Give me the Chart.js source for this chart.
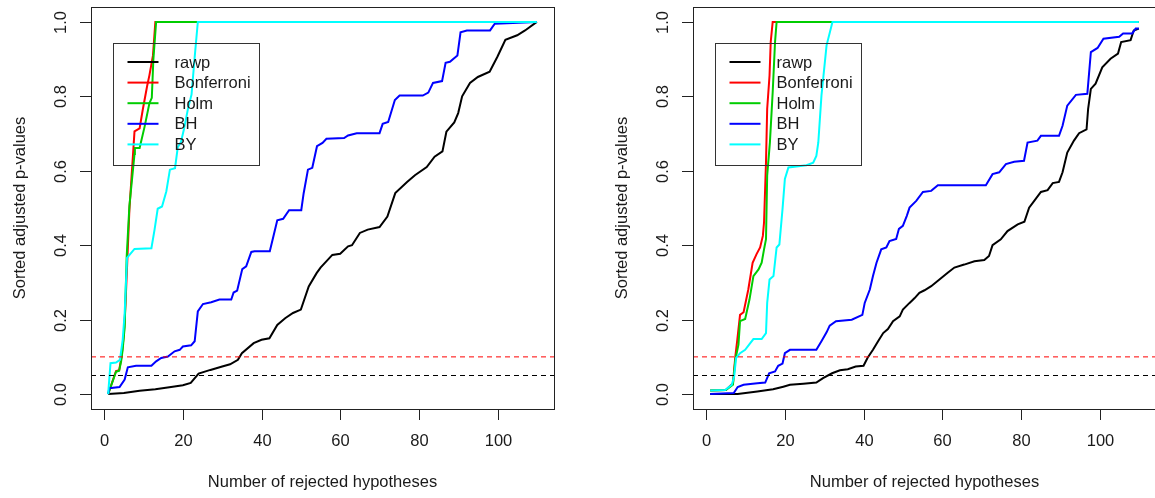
<!DOCTYPE html>
<html>
<head>
<meta charset="utf-8">
<script src="https://cdn.jsdelivr.net/npm/chart.js@4.4.1/dist/chart.umd.min.js"></script>
<style>
  html, body { margin: 0; padding: 0; background: #fff; overflow: hidden; }
  body { width: 1155px; height: 498px; position: relative; }
  .panel { position: absolute; top: 0; width: 602px; height: 498px; }
</style>
</head>
<body>
<div class="panel" style="left:0"><canvas id="leftChart" width="602" height="498"></canvas></div>
<div class="panel" style="left:602px"><canvas id="rightChart" width="602" height="498"></canvas></div>
<script>
// series names and colours (R palette 1:5)
const seriesNames = ["rawp", "Bonferroni", "Holm", "BH", "BY"];
const seriesColors = ["#000000", "#ff0000", "#00cd00", "#0000ff", "#00ffff"];

// tick labels
const xTicks = [0, 20, 40, 60, 80, 100];
const yTicks = [0, 0.2, 0.4, 0.6, 0.8, 1.0];

// horizontal reference levels
const refLevels = [0.05, 0.1];
const refColors = ["#000000", "#ff0000"];

// left panel: [number of rejected hypotheses, sorted adjusted p-value]
const leftRawp = [[1,0],[5,0.003],[9,0.009],[13,0.013],[17,0.019],[20,0.024],[22,0.03],[24,0.055],[27,0.065],[30,0.074],[32,0.08],[34,0.092],[35,0.11],[38,0.137],[40,0.146],[42,0.15],[44,0.186],[46,0.204],[48,0.218],[50,0.227],[52,0.289],[54,0.325],[55,0.34],[58,0.374],[60,0.377],[62,0.397],[63,0.4],[65,0.433],[67,0.442],[70,0.449],[72,0.477],[74,0.54],[77,0.57],[79,0.588],[82,0.61],[84,0.638],[86,0.652],[87,0.705],[89,0.73],[90,0.755],[91,0.8],[93,0.836],[95,0.852],[98,0.866],[100,0.907],[102,0.952],[105,0.964],[107,0.977],[110,1.0]];
const leftBonferroni = [[1,0],[3,0.062],[3.8,0.064],[4.4,0.1],[5,0.16],[5.4,0.24],[5.8,0.34],[6.4,0.495],[7.3,0.64],[7.7,0.706],[9,0.714],[9.8,0.764],[10.9,0.827],[11.5,0.857],[12.4,0.91],[13,1],[110,1]];
const leftHolm = [[1,0],[3,0.06],[3.8,0.063],[4.3,0.088],[4.7,0.12],[5.2,0.18],[5.7,0.366],[6.4,0.505],[7.7,0.645],[7.8,0.661],[9,0.661],[10.3,0.72],[11.5,0.782],[12.1,0.796],[12.5,0.9],[13.2,1],[110,1]];
const leftBH = [[1,0],[1.3,0.016],[3.9,0.019],[5.2,0.039],[6,0.072],[8.1,0.076],[12,0.076],[13.2,0.088],[14.5,0.097],[16.2,0.101],[17.9,0.115],[19.2,0.119],[20,0.128],[22.1,0.131],[23,0.142],[23.8,0.222],[25.1,0.242],[27.2,0.247],[29.3,0.254],[32.3,0.254],[32.9,0.273],[33.8,0.278],[35.1,0.336],[36.1,0.343],[37.4,0.382],[38.2,0.384],[42.1,0.384],[42.9,0.419],[44,0.467],[45.5,0.471],[47,0.494],[50.1,0.494],[50.7,0.539],[51.8,0.603],[52.9,0.608],[54.1,0.666],[55.5,0.675],[56.5,0.686],[61,0.688],[62,0.695],[64.2,0.701],[70,0.701],[70.8,0.726],[72.2,0.731],[73.9,0.79],[75.1,0.802],[81,0.802],[82.4,0.81],[83.6,0.836],[85.9,0.841],[86.8,0.89],[87.9,0.893],[89.8,0.91],[90.6,0.972],[92.2,0.977],[98.1,0.977],[99.3,0.995],[110,1]];
const leftBY = [[1,0],[1.6,0.083],[3,0.085],[4,0.092],[4.7,0.146],[5.2,0.218],[5.8,0.366],[7.7,0.39],[12,0.392],[12.8,0.442],[13.6,0.498],[14.7,0.504],[15.8,0.545],[16.7,0.603],[18,0.607],[18.7,0.663],[19.5,0.677],[20.3,0.713],[21.3,0.767],[22.2,0.805],[23,0.905],[23.8,1],[110,1]];

// right panel
const rightRawp = [[1,0],[8,0],[13,0.007],[17,0.013],[19.6,0.02],[21.3,0.025],[24.7,0.028],[28,0.031],[29.7,0.043],[32,0.056],[34,0.064],[36,0.067],[38,0.074],[40,0.076],[41,0.097],[42.4,0.119],[43.7,0.142],[45,0.164],[46.2,0.175],[47.5,0.196],[49.2,0.209],[50,0.227],[51.7,0.245],[53,0.258],[54.2,0.272],[55.5,0.279],[57.2,0.29],[59.3,0.308],[61.4,0.326],[63.1,0.34],[65.6,0.348],[68.2,0.357],[70.7,0.36],[71.9,0.371],[72.8,0.4],[74.9,0.416],[76.6,0.438],[79.2,0.456],[80.9,0.463],[82.1,0.501],[83.4,0.519],[85.1,0.543],[86.8,0.548],[88.1,0.567],[89.7,0.57],[90.6,0.596],[91.8,0.649],[93.5,0.681],[94.8,0.701],[96.7,0.711],[97.1,0.766],[97.8,0.82],[99,0.834],[100.7,0.878],[102.8,0.901],[104.7,0.915],[105.5,0.946],[107.9,0.951],[108.7,0.977],[110,0.982]];
const rightBonferroni = [[1,0.01],[5,0.011],[6.8,0.029],[7.4,0.101],[7.9,0.146],[8.6,0.213],[9.5,0.22],[10.7,0.281],[11.8,0.353],[12.8,0.376],[13.7,0.394],[14.4,0.425],[14.7,0.461],[15.2,0.623],[15.5,0.766],[16.1,0.856],[16.4,0.946],[16.9,1],[110,1]];
const rightHolm = [[1,0.01],[5,0.011],[6.8,0.025],[7.4,0.092],[8.2,0.133],[8.6,0.196],[9.9,0.202],[11,0.254],[12,0.317],[13.3,0.335],[14.1,0.353],[14.7,0.389],[15.2,0.416],[15.5,0.587],[16.2,0.677],[16.9,0.811],[17.5,0.946],[17.9,1],[110,1]];
const rightBH = [[1,0],[7,0.003],[8,0.019],[9.5,0.025],[13,0.029],[15,0.031],[16,0.056],[17.5,0.061],[18.3,0.076],[19.4,0.082],[20,0.11],[21.3,0.119],[28,0.119],[29.3,0.142],[30.6,0.166],[31.4,0.184],[33,0.196],[37,0.2],[39.7,0.213],[40.3,0.245],[41.6,0.281],[42.4,0.317],[43.3,0.353],[44.5,0.389],[45.8,0.394],[46.6,0.411],[48.3,0.417],[49,0.444],[50,0.452],[51,0.479],[51.7,0.501],[53.4,0.519],[55.1,0.543],[57.2,0.546],[58.9,0.561],[71.1,0.561],[72.8,0.591],[74.5,0.596],[76.2,0.618],[78.3,0.624],[80.8,0.627],[81.7,0.676],[84.2,0.681],[85.1,0.694],[89.7,0.694],[90.6,0.721],[91.8,0.775],[94,0.804],[96.9,0.807],[97.8,0.919],[99.5,0.93],[101,0.955],[105,0.96],[106,0.969],[108.3,0.969],[109.2,0.982],[110,0.982]];
const rightBY = [[1,0.01],[4.8,0.011],[6.5,0.025],[7.1,0.047],[7.6,0.097],[8.6,0.11],[9.9,0.119],[11.2,0.137],[12,0.148],[14.1,0.148],[15.2,0.164],[15.5,0.245],[16.1,0.308],[17.1,0.317],[17.9,0.394],[18.6,0.402],[19.4,0.497],[20,0.578],[20.9,0.609],[25.5,0.615],[27.2,0.622],[28,0.64],[28.5,0.676],[29.3,0.802],[30.6,0.937],[32.1,1],[110,1]];

// axis limits (R style, 4% extension)
const X_MIN = -3.36, X_MAX = 114.36;
const Y_MIN = -0.04, Y_MAX = 1.04;

const FONT = "Liberation Sans, Arial, sans-serif";
const TEXT_COLOR = "#1a1a1a";

const rFramePlugin = {
  id: "rFrame",
  afterDraw(chart) {
    const { ctx, chartArea: a, scales } = chart;
    const x = scales.x, y = scales.y;
    ctx.save();
    ctx.strokeStyle = "#222";
    ctx.lineWidth = 1;
    ctx.strokeRect(Math.round(a.left) + 0.5, Math.round(a.top) + 0.5,
      Math.round(a.right - a.left), Math.round(a.bottom - a.top));

    ctx.fillStyle = TEXT_COLOR;
    ctx.font = "16.5px " + FONT;
    ctx.textAlign = "center";
    ctx.textBaseline = "middle";

    // x ticks
    xTicks.forEach((v) => {
      const px = Math.round(x.getPixelForValue(v)) + 0.5;
      ctx.beginPath();
      ctx.moveTo(px, a.bottom);
      ctx.lineTo(px, a.bottom + 11);
      ctx.stroke();
      ctx.fillText(String(v), px, a.bottom + 32);
    });

    // y ticks, labels parallel to the axis
    yTicks.forEach((v) => {
      const py = Math.round(y.getPixelForValue(v)) + 0.5;
      ctx.beginPath();
      ctx.moveTo(a.left - 11, py);
      ctx.lineTo(a.left, py);
      ctx.stroke();
      ctx.save();
      ctx.translate(a.left - 30, py);
      ctx.rotate(-Math.PI / 2);
      ctx.fillText(v.toFixed(1), 0, 0);
      ctx.restore();
    });

    // axis titles
    ctx.fillText("Number of rejected hypotheses", (a.left + a.right) / 2, a.bottom + 73);
    ctx.save();
    ctx.translate(a.left - 71, (a.top + a.bottom) / 2);
    ctx.rotate(-Math.PI / 2);
    ctx.fillText("Sorted adjusted p-values", 0, 0);
    ctx.restore();

    // legend box
    const bx = a.left + 21.5, by = a.top + 35.5;
    ctx.strokeStyle = "#333";
    ctx.strokeRect(Math.round(bx) + 0.5, Math.round(by) + 0.5, 146, 122);
    ctx.textAlign = "left";
    seriesNames.forEach((name, i) => {
      const ry = by + 19.5 + i * 20.6;
      ctx.strokeStyle = seriesColors[i];
      ctx.lineWidth = 2;
      ctx.beginPath();
      ctx.moveTo(bx + 15, ry);
      ctx.lineTo(bx + 46, ry);
      ctx.stroke();
      ctx.fillStyle = TEXT_COLOR;
      ctx.fillText(name, bx + 62, ry + 1);
    });
    ctx.restore();
  },
};

function toPoints(pairs) {
  return pairs.map((p) => ({ x: p[0], y: p[1] }));
}

function makeChart(canvasId, seriesData) {
  const datasets = seriesData.map((pairs, i) => ({
    label: seriesNames[i],
    data: toPoints(pairs),
    borderColor: seriesColors[i],
    borderWidth: 2,
    pointRadius: 0,
    tension: 0,
    fill: false,
    order: 10 - i, // later series drawn on top, as in matplot
  }));

  refLevels.forEach((lvl, i) => {
    datasets.push({
      label: "ref" + lvl,
      data: [{ x: X_MIN, y: lvl }, { x: X_MAX, y: lvl }],
      borderColor: refColors[i],
      borderWidth: 1,
      borderDash: [5, 4],
      pointRadius: 0,
      fill: false,
      order: 0,
    });
  });

  return new Chart(document.getElementById(canvasId).getContext("2d"), {
    type: "line",
    data: { datasets: datasets },
    options: {
      responsive: false,
      animation: false,
      layout: { padding: { left: 91, right: 48, top: 7, bottom: 89 } },
      plugins: { legend: { display: false }, tooltip: { enabled: false } },
      scales: {
        x: { type: "linear", min: X_MIN, max: X_MAX, display: false },
        y: { type: "linear", min: Y_MIN, max: Y_MAX, display: false },
      },
    },
    plugins: [rFramePlugin],
  });
}

makeChart("leftChart", [leftRawp, leftBonferroni, leftHolm, leftBH, leftBY]);
makeChart("rightChart", [rightRawp, rightBonferroni, rightHolm, rightBH, rightBY]);
</script>
</body>
</html>
